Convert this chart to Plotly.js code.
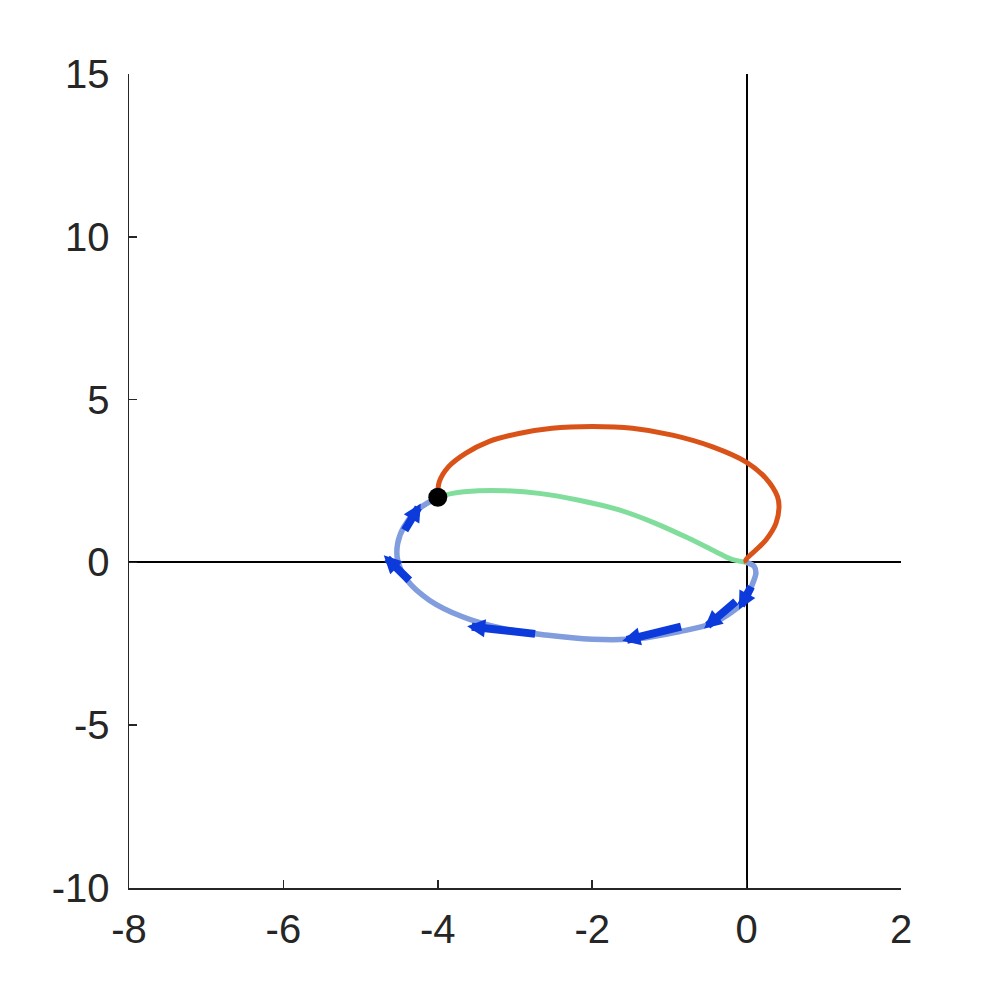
<!DOCTYPE html>
<html>
<head>
<meta charset="utf-8">
<script src="https://cdn.plot.ly/plotly-3.0.1.min.js"></script>
<style>
  html, body { margin: 0; padding: 0; background: #fff; }
  #plot { width: 997px; height: 997px; }
</style>
</head>
<body>
<div id="plot"></div>
<script>
// upper path (orange), from the start point to the origin
const upperX = [-4.0, -3.98, -3.86, -3.64, -3.34, -2.95, -2.52, -2.0, -1.48, -0.96, -0.44, -0.01, 0.25, 0.4, 0.42, 0.38, 0.25, 0.12, -0.01, 0.0];
const upperY = [2.0, 2.48, 2.94, 3.35, 3.71, 3.96, 4.12, 4.17, 4.12, 3.91, 3.55, 3.09, 2.58, 2.02, 1.71, 1.2, 0.69, 0.38, 0.07, 0.0];

// middle path (green)
const middleX = [-4.0, -3.81, -3.47, -3.12, -2.69, -2.17, -1.65, -1.18, -0.75, -0.4, -0.19, 0.0];
const middleY = [2.0, 2.12, 2.2, 2.2, 2.12, 1.91, 1.61, 1.2, 0.74, 0.33, 0.09, 0.0];

// lower loop (light blue), origin back to the start point
const lowerX = [0.0, 0.1, 0.12, 0.07, -0.01, -0.19, -0.44, -0.88, -1.39, -2.0, -2.6, -3.16, -3.68, -4.11, -4.4, -4.52, -4.52, -4.44, -4.29, -4.11, -4.0];
const lowerY = [0.0, -0.13, -0.34, -0.7, -1.16, -1.52, -1.87, -2.13, -2.34, -2.36, -2.23, -2.03, -1.67, -1.16, -0.54, 0.07, 0.58, 1.09, 1.56, 1.86, 2.0];

// direction arrows along the lower loop
const arrowTailX = [0.07, -0.12, -0.83, -2.72, -4.35, -4.44];
const arrowTailY = [-0.7, -1.16, -1.96, -2.2, -0.6, 0.94];
const arrowHeadX = [-0.1, -0.55, -1.61, -3.62, -4.7, -4.22];
const arrowHeadY = [-1.45, -2.03, -2.41, -1.96, 0.22, 1.81];

const startX = [-4];
const startY = [2];

const xTicks = [-8, -6, -4, -2, 0, 2];
const yTicks = [-10, -5, 0, 5, 10, 15];

const axisColor = '#262626';
const tickFont = {family: 'Liberation Sans, Arial, sans-serif', size: 40, color: axisColor};

const traces = [
    {x: lowerX, y: lowerY, type: 'scatter', mode: 'lines', line: {color: '#819DDE', width: 5.5, shape: 'spline'}},
    {x: middleX, y: middleY, type: 'scatter', mode: 'lines', line: {color: '#80DD9C', width: 5, shape: 'spline'}},
    {x: upperX, y: upperY, type: 'scatter', mode: 'lines', line: {color: '#D95319', width: 5, shape: 'spline'}},
    {x: startX, y: startY, type: 'scatter', mode: 'markers', marker: {color: '#000', size: 19}}
];

const annotations = arrowHeadX.map((hx, i) => ({
    x: hx, y: arrowHeadY[i],
    ax: arrowTailX[i], ay: arrowTailY[i],
    xref: 'x', yref: 'y', axref: 'x', ayref: 'y',
    text: '', showarrow: true,
    arrowhead: 2, arrowsize: 0.45, arrowwidth: 8,
    arrowcolor: '#0C3ADB', standoff: 0, startstandoff: 0
}));

const layout = {
    width: 997,
    height: 997,
    margin: {l: 129.3, r: 95.7, t: 74.3, b: 109.3},
    paper_bgcolor: '#fff',
    plot_bgcolor: '#fff',
    showlegend: false,
    xaxis: {
        range: [-8, 2], tickvals: xTicks, ticktext: xTicks.map(String),
        showgrid: false, zeroline: true, zerolinecolor: '#000', zerolinewidth: 2,
        showline: true, linecolor: axisColor, linewidth: 1.5,
        ticks: 'inside', ticklen: 8, tickwidth: 1.5, tickcolor: axisColor,
        tickfont: tickFont, ticklabelstandoff: 5
    },
    yaxis: {
        range: [-10, 15], tickvals: yTicks, ticktext: yTicks.map(String),
        showgrid: false, zeroline: true, zerolinecolor: '#000', zerolinewidth: 2,
        showline: true, linecolor: axisColor, linewidth: 1.5,
        ticks: 'inside', ticklen: 8, tickwidth: 1.5, tickcolor: axisColor,
        tickfont: tickFont, ticklabelstandoff: 10
    },
    annotations: annotations
};

Plotly.newPlot('plot', traces, layout, {displayModeBar: false, staticPlot: true});
</script>
</body>
</html>
